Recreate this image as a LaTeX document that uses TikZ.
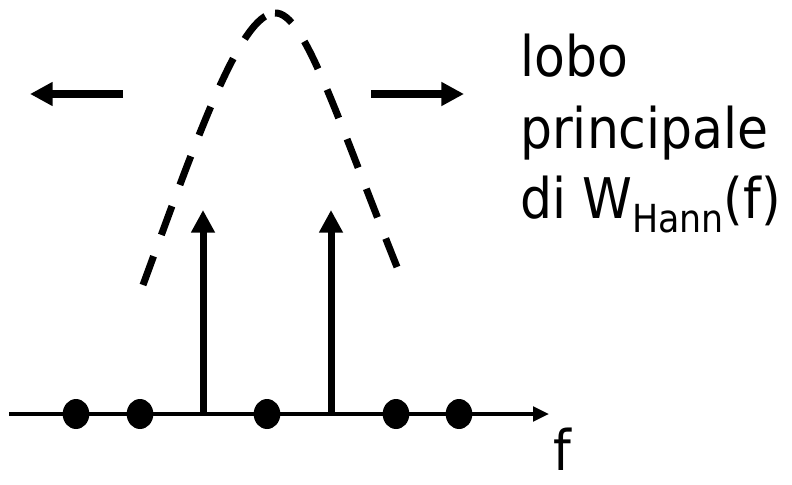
\documentclass[tikz,border=0pt]{standalone}
\usepackage{fontspec}
\setmainfont{DejaVu Sans}[FakeStretch=0.9]
\usetikzlibrary{arrows.meta,shapes.geometric}
\begin{document}
\begin{tikzpicture}[x=0.75pt,y=-0.75pt,
  thick line/.style={line width=5.25pt},
  big tip/.style={-{Triangle[length=17pt,width=17pt]}},
  dot/.style={ellipse,fill=black,draw=none,inner sep=0pt,minimum width=20pt,minimum height=22.5pt},
  lobe/.style={thick line,dash pattern=on 23pt off 17pt},
  lbl/.style={inner sep=0pt,anchor=base west,font=\fontsize{42}{52.5}\selectfont}]
\useasboundingbox (0,0) rectangle (792,485);
% axis
\coordinate (a0) at (9,414);
\coordinate (a1) at (549,414);
\draw[line width=2.5pt,-{Triangle[length=12pt,width=11pt]}] (a0) -- (a1);
% dots
\node[dot] (d1) at (76,414) {};
\node[dot] (d2) at (140,414) {};
\node[dot] (d3) at (267,414) {};
\node[dot] (d4) at (396,414) {};
\node[dot] (d5) at (459,414) {};
% vertical arrows
\coordinate (s1) at (203,414);
\coordinate (t1) at (203,210);
\coordinate (s2) at (331,414);
\coordinate (t2) at (331,210);
\draw[thick line,big tip] (s1) -- (t1);
\draw[thick line,big tip] (s2) -- (t2);
% horizontal arrows
\coordinate (l0) at (123,94);
\coordinate (l1) at (30,94);
\coordinate (r0) at (371,94);
\coordinate (r1) at (464,94);
\draw[thick line,big tip] (l0) -- (l1);
\draw[thick line,big tip] (r0) -- (r1);
% dashed main lobe
\coordinate (c0) at (143,285);
\coordinate (cp) at (275,13);
\coordinate (c1) at (397,267);
\draw[lobe] (c0) .. controls (197,138) and (240,14) .. (cp);
\draw[lobe] (c1) .. controls (335,112) and (304,12) .. (cp);
% labels
\node[lbl] (t1) at (520,76) {lobo};
\node[lbl] (t2) at (520,148) {principale};
\node[lbl] (t3) at (520,218) {di W\raisebox{-11pt}{\fontsize{29}{29}\selectfont Hann}(f)};
\node[lbl] (f) at (553,470) {f};
\end{tikzpicture}
\end{document}
